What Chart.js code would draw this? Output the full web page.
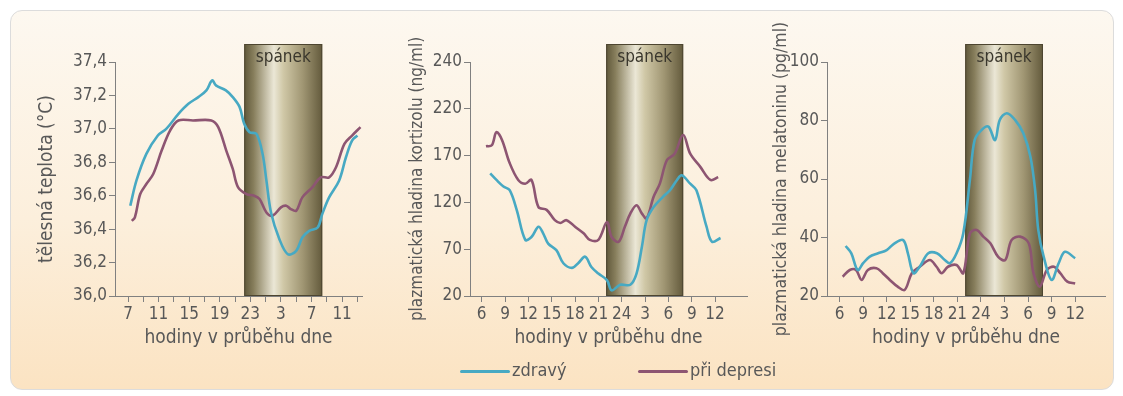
<!DOCTYPE html>
<html>
<head>
<meta charset="utf-8">
<script src="https://cdn.jsdelivr.net/npm/chart.js@4.4.1/dist/chart.umd.min.js"></script>
<style>
  body { margin: 0; width: 1123px; height: 396px; background: #fff; position: relative; overflow: hidden;
         font-family: 'Liberation Sans Narrow', 'DejaVu Sans Condensed', 'Arial Narrow', sans-serif; }
  #ramecek { position: absolute; left: 10px; top: 10px; width: 1102px; height: 378px;
             border: 1px solid #dcdcdc; border-radius: 12px;
             background: linear-gradient(#fdf8f0, #fcefdc 55%, #fbe3c2); }
  canvas { position: absolute; top: 0; }
  .leg { position: absolute; top: 359px; font-size: 18px; color: #585858; line-height: 22px; }
  .leg span { display: inline-block; width: 50px; height: 3px; vertical-align: middle; margin-right: 2px; border-radius: 2px; }
</style>
</head>
<body>
<div id="ramecek"></div>
<canvas id="teplota" width="355" height="396" style="left:20px"></canvas>
<canvas id="kortizol" width="375" height="396" style="left:385px"></canvas>
<canvas id="melatonin" width="355" height="396" style="left:760px"></canvas>
<div class="leg" style="left:460px"><span style="background:#47a9c3"></span>zdravý</div>
<div class="leg" style="left:638px"><span style="background:#8d5572"></span>při depresi</div>
<script>
// hodiny: 7 = 7:00 prvního dne, 24 = půlnoc, 31 = 7:00 druhého dne
const teplotaZdravyX = [7.3, 8.1, 9.4, 10.9, 12.0, 13.6, 14.9, 16.2, 17.25, 18.0, 18.5, 19.8, 20.7, 21.6, 22.2, 22.9, 23.8, 24.6, 25.1, 25.7, 26.8, 27.9, 29.0, 29.8, 30.7, 31.8, 32.4, 33.3, 34.6, 35.5, 36.3, 37.0];
const teplotaZdravyY = [36.54, 36.69, 36.85, 36.96, 37.0, 37.09, 37.15, 37.19, 37.23, 37.29, 37.26, 37.23, 37.19, 37.13, 37.03, 36.98, 36.97, 36.85, 36.69, 36.50, 36.34, 36.25, 36.27, 36.35, 36.39, 36.41, 36.49, 36.59, 36.69, 36.83, 36.93, 36.96];
const teplotaDepreseX = [7.5, 7.9, 8.6, 9.4, 10.3, 11.4, 12.5, 13.6, 15.5, 17.9, 18.8, 19.85, 20.7, 21.4, 22.5, 23.5, 24.2, 25.1, 25.9, 27.0, 27.7, 28.3, 29.0, 29.8, 31.1, 32.2, 33.3, 34.2, 35.3, 36.3, 37.4];
const teplotaDepreseY = [36.45, 36.47, 36.61, 36.67, 36.73, 36.87, 36.99, 37.05, 37.05, 37.05, 37.01, 36.87, 36.76, 36.65, 36.61, 36.60, 36.58, 36.50, 36.48, 36.53, 36.54, 36.52, 36.51, 36.59, 36.65, 36.71, 36.71, 36.77, 36.91, 36.96, 37.01];

const kortizolZdravyX = [7.1, 7.9, 8.8, 9.6, 10.5, 11.6, 12.4, 13.3, 13.9, 14.55, 15.6, 16.5, 17.6, 18.4, 19.3, 20.1, 21.0, 22.1, 22.7, 23.8, 25.1, 25.9, 26.6, 27.2, 28.1, 29.3, 30.2, 31.1, 31.7, 32.8, 33.6, 34.9, 35.6, 36.7];
const kortizolZdravyY = [151, 144, 137, 133, 112, 80, 83, 94, 87, 76, 69, 55, 50, 55, 62, 51, 44, 37, 26, 32, 32, 44, 73, 101, 115, 126, 133, 144, 149, 140, 133, 94, 78, 82];
const kortizolDepreseX = [6.55, 7.3, 7.9, 8.6, 9.6, 10.7, 11.6, 12.4, 13.3, 14.35, 15.4, 16.1, 16.9, 18.0, 19.1, 19.9, 21.0, 22.1, 22.7, 23.6, 24.4, 25.1, 25.9, 26.6, 27.2, 28.1, 28.9, 29.8, 30.8, 31.9, 32.8, 34.1, 35.4, 36.4];
const kortizolDepreseY = [180, 181, 195, 187, 162, 144, 140, 144, 115, 112, 101, 98, 101, 94, 87, 80, 80, 99, 83, 78, 94, 108, 117, 108, 103, 126, 140, 165, 172, 192, 172, 158, 144, 147];

const melatoninZdravyX = [6.77, 7.5, 8.3, 9.0, 9.8, 10.9, 12.0, 13.0, 14.1, 14.7, 15.4, 16.2, 17.3, 18.4, 19.4, 20.05, 20.9, 21.75, 22.6, 23.2, 24.1, 24.95, 25.8, 26.4, 27.3, 28.35, 29.4, 30.3, 30.9, 31.3, 32.0, 33.0, 33.9, 34.7, 36.0];
const melatoninZdravyY = [37.1, 34.6, 28.9, 31.2, 33.4, 34.6, 35.7, 38.0, 39.1, 34.6, 27.8, 30.0, 34.6, 34.6, 32.3, 31.2, 34.6, 41.4, 59.7, 73.3, 76.8, 77.9, 73.3, 80.2, 82.5, 80.2, 75.6, 67.6, 56.2, 42.6, 33.4, 25.5, 31.2, 35.1, 32.9];
const melatoninDepreseX = [6.4, 7.3, 8.1, 8.8, 9.6, 10.7, 11.5, 12.4, 13.4, 14.3, 15.2, 16.2, 17.5, 18.35, 19.0, 19.8, 20.9, 21.75, 22.6, 23.45, 24.3, 25.2, 26.2, 27.1, 27.9, 29.0, 30.1, 30.7, 31.5, 32.4, 33.3, 34.1, 35.0, 36.0];
const melatoninDepreseY = [26.6, 28.9, 28.9, 25.5, 28.9, 29.5, 27.8, 25.5, 23.2, 22.1, 27.8, 30.0, 32.3, 30.0, 27.8, 30.0, 30.6, 27.8, 41.4, 42.6, 40.3, 38.0, 33.4, 32.3, 39.1, 40.3, 38.0, 27.8, 23.2, 28.9, 30.0, 27.8, 24.9, 24.3];

// osy
const teplotaXTicks = [7, 9, 11, 13, 15, 17, 19, 21, 23, 25, 27, 29, 31, 33, 35, 37];
const teplotaYTicks = [36.0, 36.2, 36.4, 36.6, 36.8, 37.0, 37.2, 37.4];
const hodinyTicks = [6, 9, 12, 15, 18, 21, 24, 27, 30, 33, 36];
const kortizolYTicks = [20, 70, 120, 170, 220, 270];
const kortizolYLabels = ['20', '70', '120', '170', '220', '240'];
const melatoninYTicks = [20, 40, 60, 80, 100];

// spánek od - do
const spanekTeplota = [22.2, 32.4];
const spanekHormony = [22.0, 31.9];

const FONT = "'Liberation Sans Narrow', 'DejaVu Sans Condensed', 'Arial Narrow', sans-serif";
const SEDA = '#585858';

const spanekPlugin = {
  id: 'spanek',
  beforeDatasetsDraw(chart, args, opts) {
    const { ctx, chartArea, scales } = chart;
    const x0 = scales.x.getPixelForValue(opts.od);
    const x1 = scales.x.getPixelForValue(opts.do);
    const top = chartArea.top - 18;
    const bottom = chartArea.bottom;
    const g = ctx.createLinearGradient(x0, 0, x1, 0);
    g.addColorStop(0, '#5f573a');
    g.addColorStop(0.12, '#877e5c');
    g.addColorStop(0.38, '#ebe7d6');
    g.addColorStop(0.5, '#d0c8a7');
    g.addColorStop(0.75, '#a09673');
    g.addColorStop(1, '#635a3c');
    ctx.save();
    ctx.fillStyle = g;
    ctx.fillRect(x0, top, x1 - x0, bottom - top);
    ctx.strokeStyle = '#4d4530';
    ctx.lineWidth = 1;
    ctx.strokeRect(x0 + 0.5, top + 0.5, x1 - x0 - 1, bottom - top - 1);
    ctx.fillStyle = '#3a372d';
    ctx.font = '17px ' + FONT;
    ctx.textAlign = 'center';
    ctx.textBaseline = 'middle';
    ctx.fillText('spánek', (x0 + x1) / 2, top + 14);
    ctx.restore();
  }
};

function body(xs, ys) {
  return xs.map((x, i) => ({ x: x, y: ys[i] }));
}

function graf(id, cfg) {
  const ctx = document.getElementById(id).getContext('2d');
  return new Chart(ctx, {
    type: 'line',
    data: {
      datasets: [{
        label: 'zdravý',
        data: body(cfg.zdravyX, cfg.zdravyY),
        borderColor: '#47a9c3',
        borderWidth: 2.6,
        pointRadius: 0,
        tension: 0.35,
        fill: false
      }, {
        label: 'při depresi',
        data: body(cfg.depreseX, cfg.depreseY),
        borderColor: '#8d5572',
        borderWidth: 2.6,
        pointRadius: 0,
        tension: 0.35,
        fill: false
      }]
    },
    plugins: [spanekPlugin],
    options: {
      responsive: false,
      animation: false,
      layout: { padding: { top: 62, right: cfg.right, bottom: 0, left: 0 } },
      plugins: {
        legend: { display: false },
        tooltip: { enabled: false },
        spanek: { od: cfg.spanek[0], do: cfg.spanek[1] }
      },
      scales: {
        x: {
          type: 'linear',
          min: cfg.xMin,
          max: cfg.xMax,
          afterBuildTicks: s => { s.ticks = cfg.xTicks.map(v => ({ value: v })) },
          afterFit: s => { s.height = 100 },
          border: { color: '#808080', width: 1 },
          grid: { drawOnChartArea: false, tickLength: 6, color: '#808080' },
          ticks: {
            autoSkip: false, maxRotation: 0, padding: 2, color: SEDA,
            font: { family: FONT, size: 17 },
            callback: cfg.xLabel
          },
          title: {
            display: true, text: 'hodiny v průběhu dne', color: SEDA,
            font: { family: FONT, size: 19 }, padding: { top: 0, bottom: 47 }
          }
        },
        y: {
          min: cfg.yMin,
          max: cfg.yMax,
          afterBuildTicks: s => { s.ticks = cfg.yTicks.map(v => ({ value: v })) },
          afterFit: s => { s.width = cfg.yWidth },
          border: { color: '#808080', width: 1 },
          grid: { drawOnChartArea: false, tickLength: 6, color: '#808080' },
          ticks: {
            padding: 2, color: SEDA,
            font: { family: FONT, size: 17 },
            callback: cfg.yLabel
          },
          title: {
            display: true, text: cfg.yTitle, color: SEDA,
            font: { family: FONT, size: cfg.titleSize }, padding: { top: cfg.titlePad, bottom: 0 }
          }
        }
      }
    }
  });
}

graf('teplota', {
  zdravyX: teplotaZdravyX, zdravyY: teplotaZdravyY,
  depreseX: teplotaDepreseX, depreseY: teplotaDepreseY,
  xMin: 5.3, xMax: 37.6, xTicks: teplotaXTicks,
  xLabel: v => ((v - 7) % 4 === 0 && v < 37) ? String(v > 24 ? v - 24 : v) : '',
  yMin: 36.0, yMax: 37.4, yTicks: teplotaYTicks,
  yLabel: v => v.toFixed(1).replace('.', ','),
  yTitle: 'tělesná teplota (°C)', titleSize: 19, yWidth: 95, titlePad: 16, right: 13,
  spanek: spanekTeplota
});

graf('kortizol', {
  zdravyX: kortizolZdravyX, zdravyY: kortizolZdravyY,
  depreseX: kortizolDepreseX, depreseY: kortizolDepreseY,
  xMin: 4.5, xMax: 40.1, xTicks: hodinyTicks,
  xLabel: v => String(v > 24 ? v - 24 : v),
  yMin: 20, yMax: 270, yTicks: kortizolYTicks,
  yLabel: (v, i) => kortizolYLabels[i],
  yTitle: 'plazmatická hladina kortizolu (ng/ml)', titleSize: 17, yWidth: 85, titlePad: 22, right: 13,
  spanek: spanekHormony
});

graf('melatonin', {
  zdravyX: melatoninZdravyX, zdravyY: melatoninZdravyY,
  depreseX: melatoninDepreseX, depreseY: melatoninDepreseY,
  xMin: 4.4, xMax: 39.8, xTicks: hodinyTicks,
  xLabel: v => String(v > 24 ? v - 24 : v),
  yMin: 20, yMax: 100, yTicks: melatoninYTicks,
  yLabel: v => String(v),
  yTitle: 'plazmatická hladina melatoninu (pg/ml)', titleSize: 17.5, yWidth: 67, titlePad: 11, right: 10,
  spanek: spanekHormony
});
</script>
</body>
</html>
